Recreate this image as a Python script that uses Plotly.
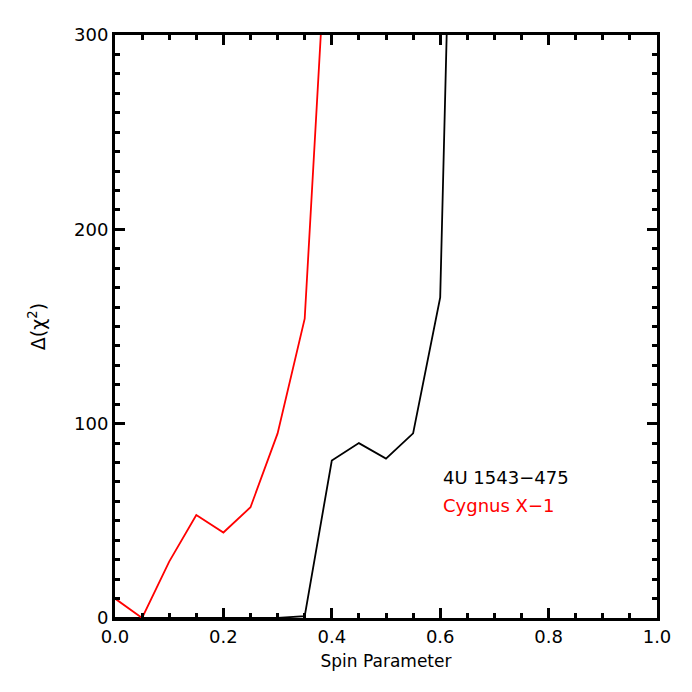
import plotly.graph_objects as go

# --- data ---
spin_cyg = [0.0, 0.05, 0.10, 0.15, 0.20, 0.25, 0.30, 0.35, 0.40]
dchi_cyg = [10, 0, 29, 53, 44, 57, 95, 154, 400]

spin_4u = [0.0, 0.05, 0.10, 0.15, 0.20, 0.25, 0.30, 0.35, 0.40, 0.45, 0.50, 0.55, 0.60, 0.65]
dchi_4u = [0, 0, 0, 0, 0, 0, 0, 1, 81, 90, 82, 95, 165, 730]

x_ticks = [0.0, 0.2, 0.4, 0.6, 0.8, 1.0]
y_ticks = [0, 100, 200, 300]

FONT = "DejaVu Sans"

fig = go.Figure()
fig.add_trace(go.Scatter(x=spin_4u, y=dchi_4u, mode="lines",
                         line={"color": "black", "width": 1.8}, name="4U 1543-475"))
fig.add_trace(go.Scatter(x=spin_cyg, y=dchi_cyg, mode="lines",
                         line={"color": "red", "width": 1.8}, name="Cygnus X-1"))

axis_style = dict(
    showline=True, linecolor="black", linewidth=3, mirror="ticks",
    ticks="inside", ticklen=10, tickwidth=3, tickcolor="black",
    showgrid=False, zeroline=False,
    tickfont={"family": FONT, "size": 18, "color": "black"},
)

fig.update_xaxes(
    **axis_style, range=[0, 1], tickvals=x_ticks, ticktext=[f"{v:.1f}" for v in x_ticks],
    minor={"dtick": 0.05, "ticks": "inside", "ticklen": 5, "tickwidth": 3, "tickcolor": "black"},
    title={"text": "Spin Parameter", "font": {"family": FONT, "size": 17, "color": "black"}, "standoff": 10},
)
fig.update_yaxes(
    **axis_style, range=[0, 300], tickvals=y_ticks,
    minor={"dtick": 10, "ticks": "inside", "ticklen": 5, "tickwidth": 3, "tickcolor": "black"},
    title={"text": "Δ(χ<sup>2</sup>)", "font": {"family": FONT, "size": 19, "color": "black"}, "standoff": 24},
)

fig.add_annotation(x=0.602, y=72.5, text="4U 1543−475", showarrow=False, xanchor="left",
                   font={"family": FONT, "size": 18, "color": "black"})
fig.add_annotation(x=0.602, y=57.7, text="Cygnus X−1", showarrow=False, xanchor="left",
                   font={"family": FONT, "size": 18, "color": "red"})

# the page body adds ~8px offset, so margins are trimmed on the top/left
fig.update_layout(
    width=692, height=692,
    margin={"l": 107, "r": 43, "t": 27, "b": 82},
    paper_bgcolor="white", plot_bgcolor="white",
    showlegend=False,
)

fig.write_html("out.html")
